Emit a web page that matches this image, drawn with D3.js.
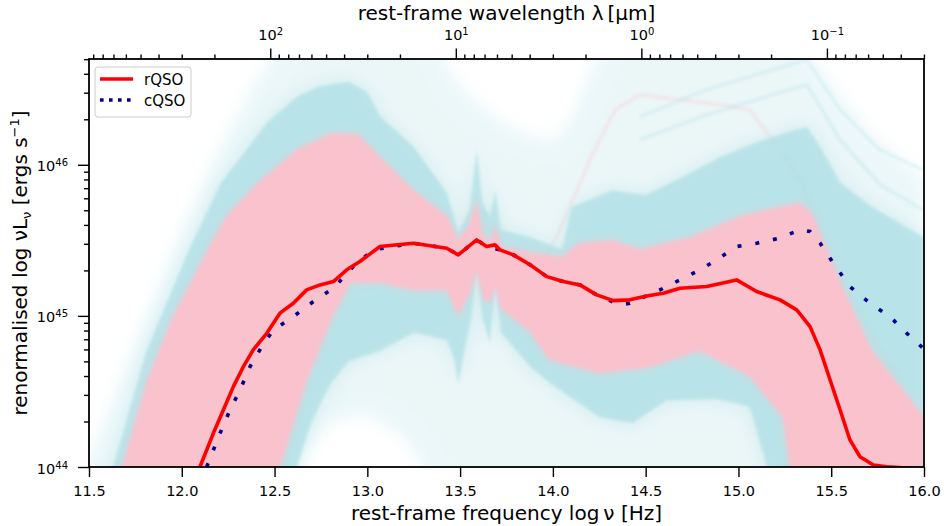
<!DOCTYPE html>
<html><head><meta charset="utf-8">
<script src="https://cdn.jsdelivr.net/npm/d3@7"></script>
<style>body{margin:0;background:#fff} svg{display:block} text{font-family:"DejaVu Sans",sans-serif;fill:#000}</style>
</head><body><svg id="c" width="944" height="526"></svg>
<script>
// ---------- data (log10 frequency [Hz], log10 nuL_nu [erg/s]) ----------
const xTicks = [11.5,12.0,12.5,13.0,13.5,14.0,14.5,15.0,15.5,16.0];
const yTickExps = [44,45,46];
const lamTickExps = [2,1,0,-1];

const rqsoNu = [12.098,12.170,12.224,12.278,12.332,12.385,12.458,12.529,12.601,12.673,12.745,12.817,12.889,12.960,13.068,13.248,13.428,13.490,13.589,13.643,13.688,13.715,13.787,13.877,13.967,14.056,14.146,14.236,14.326,14.415,14.505,14.595,14.685,14.829,14.990,15.098,15.224,15.314,15.386,15.440,15.494,15.548,15.601,15.655,15.727,15.799,15.95,16.0];
const rqsoL  = [44.00,44.223,44.377,44.532,44.664,44.775,44.885,45.018,45.084,45.172,45.205,45.227,45.305,45.360,45.459,45.481,45.448,45.404,45.503,45.459,45.470,45.437,45.404,45.338,45.260,45.227,45.205,45.139,45.101,45.106,45.132,45.150,45.183,45.194,45.238,45.161,45.106,45.040,44.929,44.775,44.576,44.377,44.179,44.068,44.013,44.002,43.99,43.99];

const cqsoNu = [12.134,12.206,12.260,12.314,12.368,12.431,12.493,12.601,12.709,12.817,12.924,13.032,13.248,13.428,13.490,13.589,13.643,13.715,13.787,13.877,13.967,14.056,14.146,14.236,14.362,14.415,14.577,14.685,14.793,14.883,14.990,15.098,15.224,15.332,15.386,15.440,15.511,15.601,15.709,15.817,15.907,16.005];
const cqsoL  = [44.00,44.223,44.377,44.510,44.664,44.797,44.907,44.995,45.095,45.183,45.326,45.437,45.481,45.448,45.404,45.503,45.459,45.437,45.404,45.338,45.260,45.227,45.205,45.139,45.073,45.084,45.172,45.238,45.305,45.371,45.459,45.481,45.515,45.570,45.559,45.481,45.349,45.194,45.084,44.995,44.885,44.775];

// envelope of the faint individual SEDs (light haze)
const hazeUpNu = [11.45,11.60,11.80,12.00,12.20,12.40,12.60,12.80,13.30,13.45,13.55,13.70,13.85,14.00,14.10,14.20,14.35,15.20,15.40,15.55,15.72,16.00];
const hazeUpL  = [43.90,44.35,44.95,45.55,46.10,46.55,46.90,47.00,47.00,46.60,46.45,46.30,46.20,46.15,46.30,46.60,47.00,47.00,46.70,46.45,46.20,45.90];
const hazeLoNu = [16.00,13.45,13.35,13.20,13.00,12.80,12.65,12.55,11.45];
const hazeLoL  = [43.50,43.50,43.90,44.20,44.35,44.30,44.10,43.50,43.50];

// dense cyan (cQSO) band
const cyanUpNu = [11.58,11.63,11.81,12.04,12.21,12.46,12.62,12.74,12.90,13.00,13.07,13.25,13.43,13.49,13.55,13.59,13.62,13.66,13.69,13.72,13.88,14.05,14.10,14.32,14.50,14.70,14.90,15.10,15.30,15.37,15.45,15.55,15.72,16.00];
const cyanUpL  = [43.70,44.00,44.77,45.44,45.88,46.28,46.45,46.52,46.55,46.48,46.32,46.12,45.81,45.55,45.70,46.10,45.75,45.66,45.83,45.57,45.52,45.44,45.72,45.83,45.80,45.92,46.05,46.15,46.23,46.25,46.10,45.88,45.72,45.52];
const cyanLoNu = [16.00,15.20,15.06,14.88,14.61,14.43,14.25,13.98,13.88,13.72,13.69,13.66,13.62,13.59,13.56,13.52,13.49,13.47,13.43,13.25,13.07,12.90,12.80,12.70,12.62,12.55];
const cyanLoL  = [43.80,43.80,44.40,44.45,44.44,44.29,44.33,44.56,44.66,44.89,45.22,44.82,44.99,45.32,44.99,44.75,44.55,44.70,44.84,44.89,44.77,44.70,44.55,44.30,44.00,43.70];

// pink (rQSO) band
const pinkUpNu = [11.62,11.68,11.81,11.95,12.14,12.24,12.41,12.62,12.81,12.95,13.07,13.25,13.43,13.49,13.55,13.59,13.62,13.66,13.69,13.72,13.88,14.05,14.14,14.32,14.47,14.74,15.01,15.33,15.40,15.55,15.72,16.00];
const pinkUpL  = [43.70,44.00,44.56,44.99,45.44,45.66,45.88,46.10,46.21,46.20,46.05,45.83,45.66,45.50,45.60,45.77,45.55,45.48,45.60,45.46,45.42,45.39,45.48,45.50,45.44,45.52,45.66,45.75,45.67,45.22,44.77,44.33];
const pinkLoNu = [16.00,15.30,15.24,15.06,14.79,14.52,14.25,13.98,13.88,13.72,13.69,13.66,13.63,13.59,13.55,13.49,13.43,13.25,13.07,12.91,12.81,12.67,12.53,12.45];
const pinkLoL  = [43.80,43.80,44.33,44.60,44.77,44.66,44.62,44.71,44.89,45.05,45.20,45.09,45.10,45.30,45.15,45.00,45.17,45.17,45.22,45.22,44.99,44.56,44.00,43.70];

// a few individually visible faint SEDs
const faintPinkNu = [13.877,14.038,14.200,14.335,14.470,14.685,14.900,15.062,15.224,15.332,15.439,15.547,15.70,15.85];
const faintPinkL  = [45.205,45.570,46.033,46.364,46.464,46.430,46.397,46.364,46.099,45.901,45.570,45.238,44.90,44.60];
const faintCyanANu = [14.470,14.830,15.186,15.369,15.547,15.763,15.995];
const faintCyanAL  = [46.318,46.497,46.629,46.695,46.364,46.099,45.967];
const faintCyanBNu = [14.470,14.830,15.186,15.369,15.547,15.763,15.995];
const faintCyanBL  = [46.166,46.331,46.464,46.530,46.166,45.868,45.702];

// ---------- layout ----------
const M = {l:89, r:924, t:59, b:467};
const C_UM = 2.998e14; // speed of light in micron/s

const svg = d3.select("#c");
const x = d3.scaleLinear().domain([11.5,16.0]).range([M.l,M.r]);
const y = d3.scaleLog().domain([1e44, Math.pow(10,46.70)]).range([M.b,M.t]);
const xl = d3.scaleLog().domain([C_UM/Math.pow(10,11.5), C_UM/Math.pow(10,16.0)]).range([M.l,M.r]);

const defs = svg.append("defs");
defs.append("clipPath").attr("id","clip").append("rect")
  .attr("x",M.l).attr("y",M.t).attr("width",M.r-M.l).attr("height",M.b-M.t);
function blur(id,s){
  defs.append("filter").attr("id",id).attr("x","-10%").attr("y","-10%").attr("width","120%").attr("height","120%")
    .append("feGaussianBlur").attr("stdDeviation",s);
}
blur("b1",1.6); blur("b2",5); blur("b3",10);

const line = d3.line().x(d=>x(d[0])).y(d=>y(Math.pow(10,d[1])));
const zip = (a,b)=>a.map((v,i)=>[v,b[i]]);
function band(upN,upL,loN,loL){ return line(zip(upN,upL).concat(zip(loN,loL)))+"Z"; }

const plot = svg.append("g").attr("clip-path","url(#clip)");
const hazeD = band(hazeUpNu,hazeUpL,hazeLoNu,hazeLoL);
const cyanD = band(cyanUpNu,cyanUpL,cyanLoNu,cyanLoL);
const pinkD = band(pinkUpNu,pinkUpL,pinkLoNu,pinkLoL);

plot.append("path").attr("d",hazeD).attr("fill","#b0e0e6").attr("opacity",0.16).attr("filter","url(#b3)");
plot.append("path").attr("d",hazeD).attr("fill","#b0e0e6").attr("opacity",0.10).attr("filter","url(#b2)");
// faint individual curves
[[faintPinkNu,faintPinkL,"#ffc0cb"],[faintCyanANu,faintCyanAL,"#b0e0e6"],[faintCyanBNu,faintCyanBL,"#b0e0e6"]].forEach(s=>{
  plot.append("path").attr("d",line(zip(s[0],s[1]))).attr("fill","none").attr("stroke",s[2])
    .attr("stroke-width",3).attr("opacity",0.35).attr("stroke-linejoin","round").attr("filter","url(#b1)");
});
plot.append("path").attr("d",cyanD).attr("fill","#b0e0e6").attr("opacity",0.45).attr("filter","url(#b3)");
plot.append("path").attr("d",cyanD).attr("fill","#b0e0e6").attr("opacity",0.75).attr("filter","url(#b1)");
plot.append("path").attr("d",pinkD).attr("fill","#ffc0cb").attr("opacity",0.45).attr("filter","url(#b2)");
plot.append("path").attr("d",pinkD).attr("fill","#ffc0cb").attr("opacity",0.85).attr("filter","url(#b1)");

plot.append("path").attr("d",line(zip(cqsoNu,cqsoL))).attr("fill","none")
  .attr("stroke","#00008b").attr("stroke-width",3.6).attr("stroke-dasharray","4,14");
plot.append("path").attr("d",line(zip(rqsoNu,rqsoL))).attr("fill","none")
  .attr("stroke","#ff0000").attr("stroke-width",3.6).attr("stroke-linejoin","round");

// ---------- axes ----------
const TF = 14.5, SF = 10;
function styleAxis(g){ g.select(".domain").remove(); g.selectAll("line").attr("stroke","#000").attr("stroke-width",1.4); }

// bottom
const gb = svg.append("g").attr("transform",`translate(0,${M.b})`)
  .call(d3.axisBottom(x).tickValues(xTicks).tickFormat(d3.format(".1f")).tickSize(10).tickPadding(9));
styleAxis(gb);
gb.selectAll("text").attr("font-size",TF).attr("font-family","DejaVu Sans");

// left minor + major
const yMinor = [];
[44,45,46].forEach(e=>{ for(let d=2; d<=9; d++){ const v=d*Math.pow(10,e); if(v<=y.domain()[1]) yMinor.push(v);} });
const glm = svg.append("g").attr("transform",`translate(${M.l},0)`)
  .call(d3.axisLeft(y).tickValues(yMinor).tickFormat(()=>"").tickSize(5));
styleAxis(glm);
const gl = svg.append("g").attr("transform",`translate(${M.l},0)`)
  .call(d3.axisLeft(y).tickValues(yTickExps.map(e=>Math.pow(10,e))).tickFormat(()=>"").tickSize(11));
styleAxis(gl);
gl.selectAll(".tick").each(function(d,i){
  const t = d3.select(this).select("text").text(null).attr("x",-21).attr("dy",null).attr("y",6).attr("font-size",TF);
  t.append("tspan").text("10");
  t.append("tspan").attr("dy",-5).attr("font-size",SF).text(yTickExps[i]);
});

// top (wavelength)
const lMinor = [];
for(let e=-2; e<=2; e++){ for(let d=2; d<=9; d++){ const v=d*Math.pow(10,e); if(v<=xl.domain()[0] && v>=xl.domain()[1]) lMinor.push(v);} }
const gtm = svg.append("g").attr("transform",`translate(0,${M.t})`)
  .call(d3.axisTop(xl).tickValues(lMinor).tickFormat(()=>"").tickSize(4.5));
styleAxis(gtm);
const gt = svg.append("g").attr("transform",`translate(0,${M.t})`)
  .call(d3.axisTop(xl).tickValues(lamTickExps.map(e=>Math.pow(10,e))).tickFormat(()=>"").tickSize(10.5));
styleAxis(gt);
gt.selectAll(".tick").each(function(d,i){
  const t = d3.select(this).select("text").text(null).attr("y",-19).attr("dy",null).attr("font-size",TF).attr("text-anchor","middle");
  t.append("tspan").text("10");
  t.append("tspan").attr("dy",-5).attr("font-size",SF).text(String(lamTickExps[i]).replace("-","\u2212"));
});

// frame
svg.append("rect").attr("x",M.l).attr("y",M.t).attr("width",M.r-M.l).attr("height",M.b-M.t)
  .attr("fill","none").attr("stroke","#000").attr("stroke-width",1.8);

// titles
const FT = 20;
svg.append("text").attr("x",(M.l+M.r)/2).attr("y",520).attr("text-anchor","middle").attr("font-size",FT)
  .text("rest-frame frequency log\u2009\u03BD  [Hz]");
svg.append("text").attr("x",(M.l+M.r)/2).attr("y",20).attr("text-anchor","middle").attr("font-size",FT)
  .text("rest-frame wavelength \u03BB\u2009[\u03BCm]");
const yt = svg.append("text").attr("transform",`translate(27,${(M.t+M.b)/2}) rotate(-90)`)
  .attr("text-anchor","middle").attr("font-size",FT);
yt.append("tspan").text("renormalised log \u03BDL");
yt.append("tspan").attr("dy",4).attr("font-size",13).text("\u03BD");
yt.append("tspan").attr("dy",-4).attr("font-size",FT).text(" [ergs s");
yt.append("tspan").attr("dy",-8).attr("font-size",13).text("\u22121");
yt.append("tspan").attr("dy",8).attr("font-size",FT).text("]");

// legend
const lg = svg.append("g");
lg.append("rect").attr("x",95).attr("y",67).attr("width",96).attr("height",50).attr("rx",3)
  .attr("fill","#fff").attr("fill-opacity",0.8).attr("stroke","#cccccc").attr("stroke-width",1);
lg.append("line").attr("x1",100).attr("x2",133).attr("y1",79).attr("y2",79).attr("stroke","#ff0000").attr("stroke-width",3.6);
lg.append("line").attr("x1",100).attr("x2",133).attr("y1",100).attr("y2",100).attr("stroke","#00008b").attr("stroke-width",3.6).attr("stroke-dasharray","3.6,5.4");
lg.append("text").attr("x",144).attr("y",84.5).attr("font-size",15).text("rQSO");
lg.append("text").attr("x",144).attr("y",105.5).attr("font-size",15).text("cQSO");
</script></body></html>
